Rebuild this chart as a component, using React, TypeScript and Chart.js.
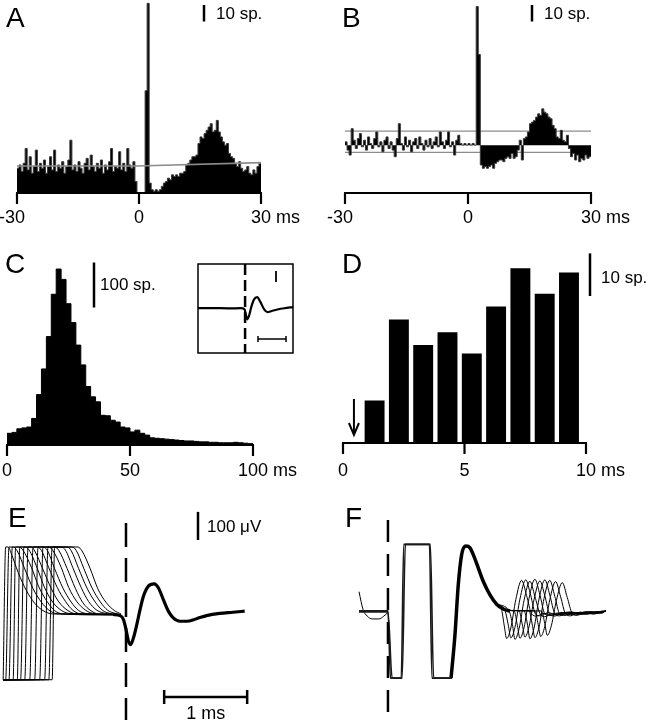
import React, { useEffect, useRef } from "react";
import { Chart, registerables } from "chart.js";

Chart.register(...registerables);

const W = 648;
const H = 720;
const FONT = '"Liberation Sans", Arial, Helvetica, sans-serif';

// ===== Panel A: raw cross-correlogram, 0.5 ms bins =====
const A_BIN_MS = 0.5;
const A_COUNTS_NEG = [
  15, 17, 13, 18, 27, 14, 22, 12, 16, 26, 13, 18, 15, 20, 12, 16, 22, 14, 26, 13,
  17, 15, 19, 12, 16, 20, 32, 14, 17, 13, 19, 15, 12, 18, 21, 14, 23, 16, 13, 18,
  15, 20, 12, 17, 14, 19, 27, 13, 16, 15, 25, 14, 18, 13, 27, 17, 15, 19, 7, 0,
];
const A_COUNTS_POS = [
  0, 0, 0, 62, 115, 6, 2, 1, 2, 1, 2, 4, 6, 7, 9, 8, 11, 10, 11, 10,
  12, 12, 13, 17, 18, 20, 22, 22, 23, 30, 34, 33, 36, 38, 40, 42, 37, 38, 44, 37,
  34, 31, 29, 30, 24, 22, 21, 18, 16, 19, 15, 13, 14, 16, 12, 11, 14, 12, 16, 18,
];
const A_MEAN_LINE = [[-30, 16.4], [-0.7, 16.4], [30, 18.4]];
const A_TICKS = [-30, 0, 30];
const A_TICK_LABELS = ["-30", "0", "30 ms"];

// ===== Panel B: corrected correlogram, 0.5 ms bins =====
const B_COUNTS_NEG = [
  2, -3, -6, 10, 3, -2, 4, 7, -1, 3, -3, 5, 1, -2, 4, 8, -1, 2, -4, 3,
  5, -2, 2, -3, -7, 4, 13, 1, -3, 5, -1, 3, -4, 2, 4, -2, 5, 1, -3, 3,
  -1, 4, -2, 2, 5, -1, 8, 2, -2, 3, 8, -1, 2, -6, 3, 6, 1, 0, 1, 0,
];
const B_COUNTS_POS = [
  1, 0, 1, 0, 84, 55, -12, -14, -13, -14, -13, -12, -14, -11, -10, -9, -9, -10, -8, -7,
  -8, -5, -8, -7, -3, 3, -9, 4, 5, 8, 13, 14, 15, 17, 19, 18, 22, 20, 19, 17,
  16, 12, 10, 5, 4, 9, 3, 2, 6, -2, -7, -5, -9, -6, -10, -8, -9, -6, -8, -7,
];
const B_BAND = [8.5, -4.4];

// ===== Panel C: latency histogram, 2 ms bins =====
const C_BIN_MS = 2;
const C_COUNTS = [
  26, 28, 36, 38, 40, 59, 112, 169, 241, 335, 391, 368, 314, 272, 222, 178, 130, 107, 96, 66,
  65, 55, 51, 40, 38, 29, 33, 26, 22, 16, 15, 14, 13, 12, 11, 10, 9, 9, 8, 7,
  7, 6, 6, 5, 5, 5, 6, 5, 4, 3,
];
const C_TICKS = [0, 50, 100];
const C_TICK_LABELS = ["0", "50", "100 ms"];
const C_INSET_TRACE = [
  [-1.68, 0], [-1.2, 1], [-0.6, -1], [-0.15, 0], [-0.02, -10], [0.04, -70], [0.08, -100],
  [0.14, -70], [0.22, 10], [0.32, 80], [0.43, 100], [0.55, 55], [0.68, -10], [0.8, -35],
  [0.95, -25], [1.15, -12], [1.4, 0], [1.71, 10],
];

// ===== Panel D: 1 ms bins =====
const D_BIN_CENTERS = [0.3, 1.3, 2.3, 3.3, 4.3, 5.3, 6.3, 7.3, 8.3, 9.3];
const D_COUNTS = [0, 10, 29, 23, 26, 21, 32, 41, 35, 40];
const D_TICKS = [0, 5, 10];
const D_TICK_LABELS = ["0", "5", "10 ms"];
const D_ARROW_MS = 0.45;

// ===== Panel E: traces (ms, µV) =====
const E_ARTIFACT_TRACES = [
  [[-1.48, -232], [-1.45, 240], [-1.42, 240], [-1.38, 215], [-1.3, 150], [-1.2, 85], [-1.1, 40], [-1.0, 14], [-0.88, 2], [-0.16, 0]],
  [[-1.48, -232], [-1.45, -232], [-1.41, 240], [-1.36, 240], [-1.31, 226], [-1.22, 162], [-1.12, 92], [-1.02, 44], [-0.93, 16], [-0.83, 3], [-0.16, 0]],
  [[-1.48, -232], [-1.41, -232], [-1.37, 240], [-1.29, 240], [-1.24, 228], [-1.14, 168], [-1.05, 98], [-0.95, 46], [-0.86, 14], [-0.76, 2], [-0.16, -2]],
  [[-1.48, -232], [-1.36, -232], [-1.33, 240], [-1.22, 240], [-1.17, 230], [-1.07, 165], [-0.98, 95], [-0.88, 43], [-0.78, 15], [-0.69, 4], [-0.16, 0]],
  [[-1.48, -232], [-1.31, -232], [-1.28, 240], [-1.14, 240], [-1.1, 226], [-1.0, 160], [-0.9, 92], [-0.81, 45], [-0.71, 16], [-0.61, 3], [-0.16, 1]],
  [[-1.48, -232], [-1.27, -232], [-1.23, 240], [-1.07, 240], [-1.02, 228], [-0.93, 166], [-0.83, 97], [-0.73, 47], [-0.64, 15], [-0.54, 2], [-0.16, 0]],
  [[-1.48, -232], [-1.22, -232], [-1.18, 240], [-1.0, 240], [-0.95, 229], [-0.86, 163], [-0.76, 94], [-0.66, 44], [-0.57, 14], [-0.47, 3], [-0.16, -1]],
  [[-1.48, -232], [-1.16, -232], [-1.12, 240], [-0.93, 240], [-0.88, 227], [-0.78, 167], [-0.69, 96], [-0.59, 45], [-0.49, 16], [-0.4, 4], [-0.16, 0]],
  [[-1.48, -232], [-1.1, -232], [-1.06, 240], [-0.86, 240], [-0.81, 228], [-0.71, 164], [-0.61, 93], [-0.52, 42], [-0.42, 13], [-0.33, 2], [-0.16, 1]],
  [[-1.48, -232], [-1.04, -232], [-1.0, 240], [-0.78, 240], [-0.73, 229], [-0.64, 166], [-0.54, 96], [-0.45, 46], [-0.35, 15], [-0.25, 4], [-0.16, 0]],
  [[-1.48, -232], [-0.98, -232], [-0.94, 240], [-0.71, 240], [-0.66, 227], [-0.57, 163], [-0.47, 94], [-0.37, 44], [-0.28, 14], [-0.18, 3], [-0.12, 0]],
  [[-1.48, -232], [-0.93, -232], [-0.89, 240], [-0.65, 240], [-0.6, 228], [-0.51, 165], [-0.41, 95], [-0.31, 45], [-0.22, 15], [-0.12, 3], [-0.06, -2]],
  [[-1.48, -232], [-0.89, -232], [-0.86, 240], [-0.58, 240], [-0.53, 226], [-0.43, 162], [-0.34, 92], [-0.24, 43], [-0.14, 14], [-0.06, 2]],
];
const E_SPIKE = [
  [-0.16, 0], [-0.07, -4], [-0.03, -18], [0.0, -53], [0.03, -95], [0.056, -107], [0.09, -83],
  [0.13, -36], [0.17, 18], [0.21, 65], [0.27, 101], [0.34, 109], [0.39, 95], [0.45, 53],
  [0.51, 12], [0.57, -12], [0.65, -24], [0.73, -24], [0.85, -15], [0.97, -4], [1.13, 4],
  [1.29, 8], [1.43, 12],
];

// ===== Panel F: traces (ms, µV) =====
const F_ARTIFACT_TRACES = [
  [[-0.349, 1], [0.0, 1], [0.03, -237], [0.16, -237], [0.19, 235], [0.5, 235], [0.53, -237], [0.77, -237]],
  [[-0.349, -3], [0.0, -3], [0.05, -237], [0.17, -237], [0.21, 235], [0.51, 235], [0.55, -237], [0.76, -237]],
];
const F_PRE_TRACE = [[-0.349, 68], [-0.3, 5], [-0.25, -18], [-0.19, -28], [-0.11, -28], [-0.05, -18], [0.0, -5]];
const F_SPIKE = [
  [0.76, -237], [0.807, -85], [0.847, 92], [0.888, 199], [0.94, 229], [0.988, 223], [1.036, 193],
  [1.088, 152], [1.149, 104], [1.229, 57], [1.309, 24], [1.39, 7], [1.47, 0],
];
const F_LATE_TRACES = [
  [[1.31, 24], [1.37, 3], [1.4, -50], [1.43, -97], [1.48, -60], [1.54, 40], [1.61, 108], [1.67, 55], [1.73, -10], [1.79, -18], [1.88, -8], [1.98, -15], [2.1, -5], [2.25, -10], [2.4, -3], [2.55, -6], [2.627, 0]],
  [[1.31, 24], [1.41, 1], [1.45, -50], [1.48, -95], [1.53, -58], [1.59, 42], [1.66, 110], [1.72, 55], [1.78, -12], [1.84, -17], [1.93, -6], [2.04, -14], [2.16, -4], [2.3, -9], [2.45, -2], [2.58, -7], [2.627, 2]],
  [[1.31, 24], [1.46, 0], [1.5, -48], [1.53, -100], [1.58, -62], [1.64, 38], [1.71, 105], [1.77, 52], [1.83, -8], [1.89, -20], [1.98, -9], [2.08, -13], [2.2, -3], [2.34, -11], [2.48, -4], [2.627, 0]],
  [[1.31, 24], [1.42, 2], [1.52, 0], [1.56, -52], [1.59, -96], [1.64, -58], [1.7, 45], [1.77, 112], [1.83, 58], [1.89, -10], [1.95, -16], [2.04, -7], [2.14, -12], [2.26, -5], [2.4, -9], [2.52, -3], [2.627, 1]],
  [[1.31, 24], [1.42, 2], [1.58, 0], [1.62, -50], [1.65, -92], [1.7, -55], [1.76, 40], [1.83, 106], [1.89, 54], [1.95, -12], [2.01, -18], [2.1, -6], [2.2, -13], [2.32, -4], [2.45, -8], [2.627, -1]],
  [[1.31, 24], [1.42, 2], [1.64, 0], [1.68, -46], [1.71, -98], [1.76, -60], [1.82, 42], [1.89, 110], [1.95, 56], [2.01, -9], [2.07, -17], [2.16, -8], [2.26, -14], [2.38, -3], [2.5, -9], [2.627, 0]],
  [[1.31, 24], [1.42, 2], [1.7, 0], [1.74, -50], [1.77, -94], [1.82, -57], [1.88, 44], [1.95, 108], [2.01, 52], [2.07, -11], [2.13, -16], [2.22, -6], [2.32, -12], [2.44, -4], [2.56, -8], [2.627, 1]],
  [[1.31, 24], [1.42, 2], [1.77, 0], [1.81, -48], [1.84, -90], [1.89, -54], [1.95, 40], [2.02, 104], [2.08, 50], [2.14, -10], [2.2, -17], [2.29, -7], [2.39, -12], [2.51, -3], [2.627, -2]],
  [[1.31, 24], [1.42, 2], [1.85, 0], [1.89, -45], [1.92, -86], [1.97, -50], [2.03, 38], [2.1, 100], [2.16, 48], [2.22, -8], [2.28, -15], [2.37, -6], [2.47, -11], [2.57, -4], [2.627, 0]],
];

// ===== helpers =====
type Pt = { x: number; y: number };
const toPts = (pairs: number[][]): Pt[] => pairs.map(([x, y]) => ({ x, y }));
// histogram as step outline: one point at each bin start, plus the closing edge
const stepPts = (start: number, width: number, counts: number[]): Pt[] => [
  ...counts.map((c, i) => ({ x: start + width * i, y: c })),
  { x: start + width * counts.length, y: counts[counts.length - 1] },
];

interface Area { left: number; top: number; right: number; bottom: number }

function baseOptions(area: Area, xr: [number, number], yr: [number, number]) {
  return {
    responsive: false,
    maintainAspectRatio: false,
    animation: false,
    events: [],
    devicePixelRatio: 1,
    layout: {
      autoPadding: false,
      padding: { left: area.left, top: area.top, right: W - area.right, bottom: H - area.bottom },
    },
    scales: {
      x: { type: "linear", min: xr[0], max: xr[1], display: false, offset: false },
      y: { type: "linear", min: yr[0], max: yr[1], display: false },
    },
    plugins: { legend: { display: false }, tooltip: { enabled: false }, title: { display: false } },
  };
}

const histSet = (data: Pt[], order = 0, edge = "#2a2a2a") => ({
  type: "line",
  data,
  stepped: true,
  fill: "origin",
  backgroundColor: "#000",
  borderColor: edge,
  borderWidth: 1,
  pointRadius: 0,
  tension: 0,
  order,
});

const barSet = (data: Pt[], pct: number, order = 0) => ({
  type: "bar",
  data,
  backgroundColor: "#000",
  borderWidth: 0,
  barPercentage: pct,
  categoryPercentage: 1,
  order,
});

const lineSet = (data: Pt[], width: number, color = "#000", order = 0, smooth = true) => ({
  type: "line",
  data,
  borderColor: color,
  borderWidth: width,
  pointRadius: 0,
  fill: false,
  tension: 0,
  cubicInterpolationMode: smooth ? "monotone" : "default",
  clip: false,
  order,
  borderJoinStyle: "round",
});

function seg(ctx: CanvasRenderingContext2D, x1: number, y1: number, x2: number, y2: number, w = 2, dash: number[] = []) {
  ctx.save();
  ctx.strokeStyle = "#000";
  ctx.lineWidth = w;
  ctx.setLineDash(dash);
  ctx.beginPath();
  ctx.moveTo(x1, y1);
  ctx.lineTo(x2, y2);
  ctx.stroke();
  ctx.restore();
}

function txt(ctx: CanvasRenderingContext2D, s: string, x: number, y: number, size: number, align: CanvasTextAlign = "left") {
  ctx.save();
  ctx.fillStyle = "#000";
  ctx.font = `${size}px ${FONT}`;
  ctx.textAlign = align;
  ctx.textBaseline = "alphabetic";
  ctx.fillText(s, x, y);
  ctx.restore();
}

function tickLabel(ctx: CanvasRenderingContext2D, label: string, px: number, y: number) {
  ctx.save();
  ctx.font = `18px ${FONT}`;
  ctx.fillStyle = "#000";
  ctx.textBaseline = "alphabetic";
  if (label.startsWith("-")) {
    ctx.textAlign = "right";
    ctx.fillText(label, px + 8, y);
  } else {
    const num = label.split(" ")[0];
    const w = ctx.measureText(num).width;
    ctx.textAlign = "left";
    ctx.fillText(label, px - w / 2, y);
  }
  ctx.restore();
}

function xAxis(chart: any, ticks: number[], labels: string[], yPix: number, labelBase: number) {
  const xs = chart.scales.x;
  const ctx = chart.ctx;
  const x0 = xs.getPixelForValue(ticks[0]);
  const x1 = xs.getPixelForValue(ticks[ticks.length - 1]);
  seg(ctx, x0 - 1, yPix, x1 + 1, yPix, 2);
  ticks.forEach((t, i) => {
    const p = xs.getPixelForValue(t);
    seg(ctx, p, yPix, p, yPix + 11, 2.2);
    tickLabel(ctx, labels[i], p, labelBase);
  });
}

function vBar(chart: any, x: number, yBottom: number, value: number, w = 2.5) {
  const ys = chart.scales.y;
  const len = ys.getPixelForValue(0) - ys.getPixelForValue(value);
  seg(chart.ctx, x, yBottom, x, yBottom - len, w);
}

const deco = (draw: (chart: any, ctx: CanvasRenderingContext2D) => void) => ({
  id: "deco",
  afterDraw(chart: any) {
    const ctx = chart.ctx;
    ctx.save();
    draw(chart, ctx);
    ctx.restore();
  },
});

// ===== configs =====
const configA = () => ({
  type: "line",
  data: {
    datasets: [
      lineSet(toPts(A_MEAN_LINE), 1.6, "#8c8c8c", 0, false),
      histSet(stepPts(-30, A_BIN_MS, [...A_COUNTS_NEG, ...A_COUNTS_POS]), 1, "#3a3a3a"),
    ],
  },
  options: baseOptions({ left: 17, top: 0, right: 261, bottom: 193 }, [-30, 30], [0, 117]),
  plugins: [
    deco((chart, ctx) => {
      xAxis(chart, A_TICKS, A_TICK_LABELS, chart.scales.y.getPixelForValue(0), 223);
      vBar(chart, 204, 21.5, 10);
      txt(ctx, "10 sp.", 216, 19, 17);
      txt(ctx, "A", 6, 27, 28);
    }),
  ],
});

const configB = () => ({
  type: "line",
  data: {
    datasets: [
      histSet(stepPts(-30, A_BIN_MS, [...B_COUNTS_NEG, ...B_COUNTS_POS]), 0, "#3a3a3a"),
      lineSet(toPts([[-30, B_BAND[0]], [30, B_BAND[0]]]), 1.3, "#8c8c8c", 1, false),
      lineSet(toPts([[-30, B_BAND[1]], [30, B_BAND[1]]]), 1.3, "#8c8c8c", 1, false),
    ],
  },
  options: baseOptions({ left: 345, top: 0, right: 591, bottom: 193 }, [-30, 30], [-29, 88]),
  plugins: [
    deco((chart, ctx) => {
      xAxis(chart, A_TICKS, A_TICK_LABELS, chart.chartArea.bottom, 223);
      vBar(chart, 532, 21.5, 10);
      txt(ctx, "10 sp.", 544, 19, 17);
      txt(ctx, "B", 342, 27, 28);
    }),
  ],
});

const configC = () => ({
  type: "line",
  data: { datasets: [histSet(stepPts(0, C_BIN_MS, C_COUNTS), 0, "#000")] },
  options: baseOptions({ left: 7, top: 265, right: 253, bottom: 445 }, [0, 100], [0, 400]),
  plugins: [
    deco((chart, ctx) => {
      xAxis(chart, C_TICKS, C_TICK_LABELS, chart.scales.y.getPixelForValue(0), 476);
      vBar(chart, 94, 307.5, 100);
      txt(ctx, "100 sp.", 100, 290, 17);
      txt(ctx, "C", 5, 273, 28);
    }),
  ],
});

const configCInset = () => ({
  type: "line",
  data: { datasets: [lineSet(toPts(C_INSET_TRACE), 2.2)] },
  options: baseOptions({ left: 198, top: 264, right: 293, bottom: 353 }, [-1.68, 1.71], [-405, 400]),
  plugins: [
    deco((chart, ctx) => {
      const a = chart.chartArea;
      const xs = chart.scales.x;
      ctx.strokeStyle = "#000";
      ctx.lineWidth = 1.5;
      ctx.strokeRect(a.left, a.top, a.right - a.left, a.bottom - a.top);
      const x0 = xs.getPixelForValue(0);
      seg(ctx, x0, a.top, x0, a.bottom, 2.5, [11, 5]);
      vBar(chart, 276, 282, 100, 1.8);
      const h0 = 258;
      const h1 = h0 + (xs.getPixelForValue(1) - xs.getPixelForValue(0));
      seg(ctx, h0, 339, h1, 339, 1.5);
      seg(ctx, h0, 336, h0, 342, 1.5);
      seg(ctx, h1, 336, h1, 342, 1.5);
    }),
  ],
});

const configD = () => ({
  type: "bar",
  data: { datasets: [barSet(D_BIN_CENTERS.map((x, i) => ({ x, y: D_COUNTS[i] })), 0.82, 0)] },
  options: baseOptions({ left: 343, top: 264, right: 586, bottom: 443 }, [0, 10], [0, 42]),
  plugins: [
    deco((chart, ctx) => {
      xAxis(chart, D_TICKS, D_TICK_LABELS, chart.scales.y.getPixelForValue(0), 476);
      vBar(chart, 590, 296, 10);
      txt(ctx, "10 sp.", 601, 283, 17);
      txt(ctx, "D", 342, 273, 28);
      const ax = chart.scales.x.getPixelForValue(D_ARROW_MS);
      seg(ctx, ax, 399, ax, 433, 2);
      ctx.strokeStyle = "#000";
      ctx.lineWidth = 2;
      ctx.beginPath();
      ctx.moveTo(ax - 5, 423);
      ctx.lineTo(ax, 435);
      ctx.lineTo(ax + 5, 423);
      ctx.stroke();
    }),
  ],
});

const configE = () => ({
  type: "line",
  data: {
    datasets: [
      ...E_ARTIFACT_TRACES.map((tr) => lineSet(toPts(tr), 1)),
      lineSet(toPts(E_SPIKE), 3.2),
    ],
  },
  options: baseOptions({ left: 3, top: 547, right: 245, bottom: 682 }, [-1.482, 1.434], [-240, 240]),
  plugins: [
    deco((chart, ctx) => {
      const xs = chart.scales.x;
      const x0 = xs.getPixelForValue(0);
      seg(ctx, x0, 523, x0, 720, 2.5, [24, 11]);
      vBar(chart, 198, 540, 100);
      txt(ctx, "100 \u03bcV", 207, 532, 17);
      const b0 = xs.getPixelForValue(0.46);
      const b1 = xs.getPixelForValue(1.46);
      seg(ctx, b0, 697, b1, 697, 2.5);
      seg(ctx, b0, 690, b0, 704, 2.5);
      seg(ctx, b1, 690, b1, 704, 2.5);
      txt(ctx, "1 ms", (b0 + b1) / 2, 719, 18, "center");
      txt(ctx, "E", 8, 527, 28);
    }),
  ],
});

const configF = () => ({
  type: "line",
  data: {
    datasets: [
      ...F_ARTIFACT_TRACES.map((tr) => lineSet(toPts(tr), 1.6, "#1a1a1a")),
      lineSet(toPts(F_PRE_TRACE), 1),
      lineSet(toPts(F_SPIKE), 3.5),
      ...F_LATE_TRACES.map((tr) => lineSet(toPts(tr), 1)),
    ],
  },
  options: baseOptions({ left: 359, top: 543, right: 606, bottom: 679 }, [-0.349, 2.627], [-240, 240]),
  plugins: [
    deco((chart, ctx) => {
      const x0 = chart.scales.x.getPixelForValue(0);
      seg(ctx, x0, 520, x0, 720, 2.5, [22, 12]);
      txt(ctx, "F", 345, 527, 28);
    }),
  ],
});

function ChartLayer({ make }: { make: () => any }) {
  const ref = useRef<HTMLCanvasElement | null>(null);
  useEffect(() => {
    if (!ref.current) return;
    const chart = new Chart(ref.current, make());
    return () => chart.destroy();
  }, [make]);
  return (
    <canvas
      ref={ref}
      width={W}
      height={H}
      style={{ position: "absolute", left: 0, top: 0, width: W, height: H, pointerEvents: "none" }}
    />
  );
}

const MAKERS = [configA, configB, configC, configCInset, configD, configE, configF];

export default function App() {
  return (
    <div style={{ position: "absolute", left: 0, top: 0, width: W, height: H, background: "#fff", overflow: "hidden" }}>
      {MAKERS.map((m, i) => (
        <ChartLayer key={i} make={m} />
      ))}
    </div>
  );
}
